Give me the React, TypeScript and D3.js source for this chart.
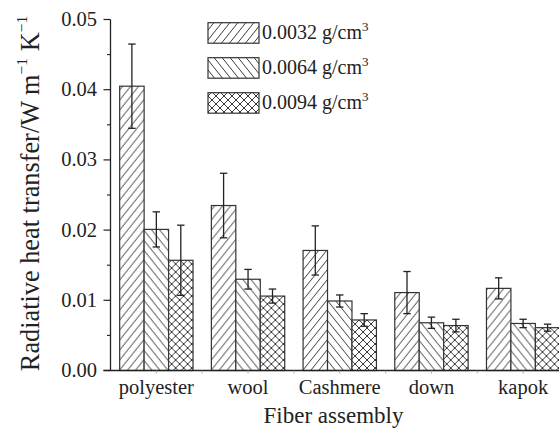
import React from "react";
import * as d3 from "d3";

const categories = ["polyester", "wool", "Cashmere", "down", "kapok"];
const seriesNames = ["0.0032 g/cm", "0.0064 g/cm", "0.0094 g/cm"];
const series1 = [0.0405, 0.0235, 0.0171, 0.0111, 0.0117];
const series2 = [0.0201, 0.013, 0.0099, 0.0068, 0.0067];
const series3 = [0.0157, 0.0106, 0.0072, 0.0064, 0.0061];
const err1 = [0.006, 0.0046, 0.0035, 0.003, 0.0015];
const err2 = [0.0025, 0.0014, 0.00086, 0.0008, 0.0006];
const err3 = [0.005, 0.001, 0.0009, 0.0009, 0.0005];
const yTicks = [0, 0.01, 0.02, 0.03, 0.04, 0.05];
const yMinor = [0.005, 0.015, 0.025, 0.035, 0.045];

const W = 559;
const H = 428;
const TS = { fontFamily: "Liberation Serif" };

export default function App() {
  const values = [series1, series2, series3];
  const errs = [err1, err2, err3];
  const patterns = ["hatchF", "hatchB", "hatchX"];

  const y = d3.scaleLinear().domain([0, 0.05]).range([370.5, 19.5]);
  const x0 = d3
    .scaleBand<string>()
    .domain(categories)
    .range([110.5, 569])
    .paddingInner(0.2)
    .paddingOuter(0.1);
  const x1 = d3
    .scaleBand<number>()
    .domain([0, 1, 2])
    .range([0, x0.bandwidth()]);

  const axisX = 110.5;
  const baseY = y(0);
  const step = x0.step();

  return (
    <svg
      width={W}
      height={H}
      style={{ position: "absolute", left: 0, top: 0, background: "#fff" }}
    >
      <defs>
        <pattern id="hatchF" patternUnits="userSpaceOnUse" width={8} height={10}>
          <path d="M-2,12.5 L10,-2.5" stroke="#222" strokeWidth={0.9} />
          <path d="M-10,12.5 L2,-2.5" stroke="#222" strokeWidth={0.9} />
          <path d="M6,12.5 L18,-2.5" stroke="#222" strokeWidth={0.9} />
        </pattern>
        <pattern id="hatchB" patternUnits="userSpaceOnUse" width={8} height={10}>
          <path d="M-2,-2.5 L10,12.5" stroke="#222" strokeWidth={0.9} />
          <path d="M-10,-2.5 L2,12.5" stroke="#222" strokeWidth={0.9} />
          <path d="M6,-2.5 L18,12.5" stroke="#222" strokeWidth={0.9} />
        </pattern>
        <pattern id="hatchX" patternUnits="userSpaceOnUse" width={8} height={8}>
          <path d="M-2,10 L10,-2 M-10,10 L2,-2 M6,10 L18,-2" stroke="#222" strokeWidth={0.9} />
          <path d="M-2,-2 L10,10 M-10,-2 L2,10 M6,-2 L18,10" stroke="#222" strokeWidth={0.9} />
        </pattern>
      </defs>

      {/* bars */}
      {categories.map((c, i) => (
        <g key={c} transform={`translate(${x0(c)},0)`}>
          {values.map((vals, s) => {
            const bx = x1(s)!;
            const bw = x1.bandwidth();
            const top = y(vals[i]);
            return (
              <g key={s}>
                <rect x={bx} y={top} width={bw} height={baseY - top} fill="#fff" />
                <rect
                  x={bx}
                  y={top}
                  width={bw}
                  height={baseY - top}
                  fill={`url(#${patterns[s]})`}
                  stroke="#333"
                  strokeWidth={1.2}
                />
              </g>
            );
          })}
          {values.map((vals, s) => {
            const cx = x1(s)! + x1.bandwidth() / 2;
            const hi = y(vals[i] + errs[s][i]);
            const lo = y(vals[i] - errs[s][i]);
            return (
              <g key={"e" + s} stroke="#222" strokeWidth={1.3}>
                <line x1={cx} x2={cx} y1={hi} y2={lo} />
                <line x1={cx - 3.7} x2={cx + 3.7} y1={hi} y2={hi} />
                <line x1={cx - 3.7} x2={cx + 3.7} y1={lo} y2={lo} />
              </g>
            );
          })}
        </g>
      ))}

      {/* axes */}
      <line x1={axisX} x2={axisX} y1={y(0.05)} y2={baseY} stroke="#222" strokeWidth={1.3} />
      <line x1={103.5} x2={W} y1={baseY} y2={baseY} stroke="#222" strokeWidth={1.3} />
      {yTicks.map((t) => (
        <g key={t}>
          <line x1={axisX - 7} x2={axisX} y1={y(t)} y2={y(t)} stroke="#222" strokeWidth={1.2} />
          <text x={97} y={y(t) + 6.5} textAnchor="end" fontSize={20.5} fill="#222" style={TS}>
            {d3.format(".2f")(t)}
          </text>
        </g>
      ))}
      {yMinor.map((t) => (
        <line key={t} x1={axisX - 3.5} x2={axisX} y1={y(t)} y2={y(t)} stroke="#222" strokeWidth={1.1} />
      ))}
      {categories.map((c) => {
        const cx = x0(c)! + x0.bandwidth() / 2;
        return (
          <g key={c}>
            <line x1={cx} x2={cx} y1={baseY} y2={baseY + 3} stroke="#999" strokeWidth={0.8} />
            <line
              x1={cx + step / 2}
              x2={cx + step / 2}
              y1={baseY}
              y2={baseY + 3}
              stroke="#999"
              strokeWidth={0.8}
            />
            <text x={cx} y={394} textAnchor="middle" fontSize={20.5} fill="#222" style={TS}>
              {c}
            </text>
          </g>
        );
      })}

      {/* axis titles */}
      <text x={333.5} y={423} textAnchor="middle" fontSize={23} fill="#222" style={TS}>
        Fiber assembly
      </text>
      <text
        transform={`translate(38.5,193.5) rotate(-90)`}
        textAnchor="middle"
        fontSize={26.3}
        fill="#222"
        style={TS}
      >
        Radiative heat transfer/W m
        <tspan fontSize={15.5} dy={-11.5}>−1</tspan>
        <tspan dy={11.5}> K</tspan>
        <tspan fontSize={15.5} dy={-11.5}>−1</tspan>
      </text>

      {/* legend */}
      {seriesNames.map((n, s) => {
        const ly = 22.7 + s * 35;
        return (
          <g key={n}>
            <rect x={208} y={ly} width={51} height={20.5} fill="#fff" />
            <rect
              x={208}
              y={ly}
              width={51}
              height={20.5}
              fill={`url(#${patterns[s]})`}
              stroke="#333"
              strokeWidth={1.2}
            />
            <text x={262} y={ly + 16} fontSize={20} fill="#222" style={TS}>
              {n}
              <tspan fontSize={13} dy={-8}>3</tspan>
            </text>
          </g>
        );
      })}
    </svg>
  );
}
